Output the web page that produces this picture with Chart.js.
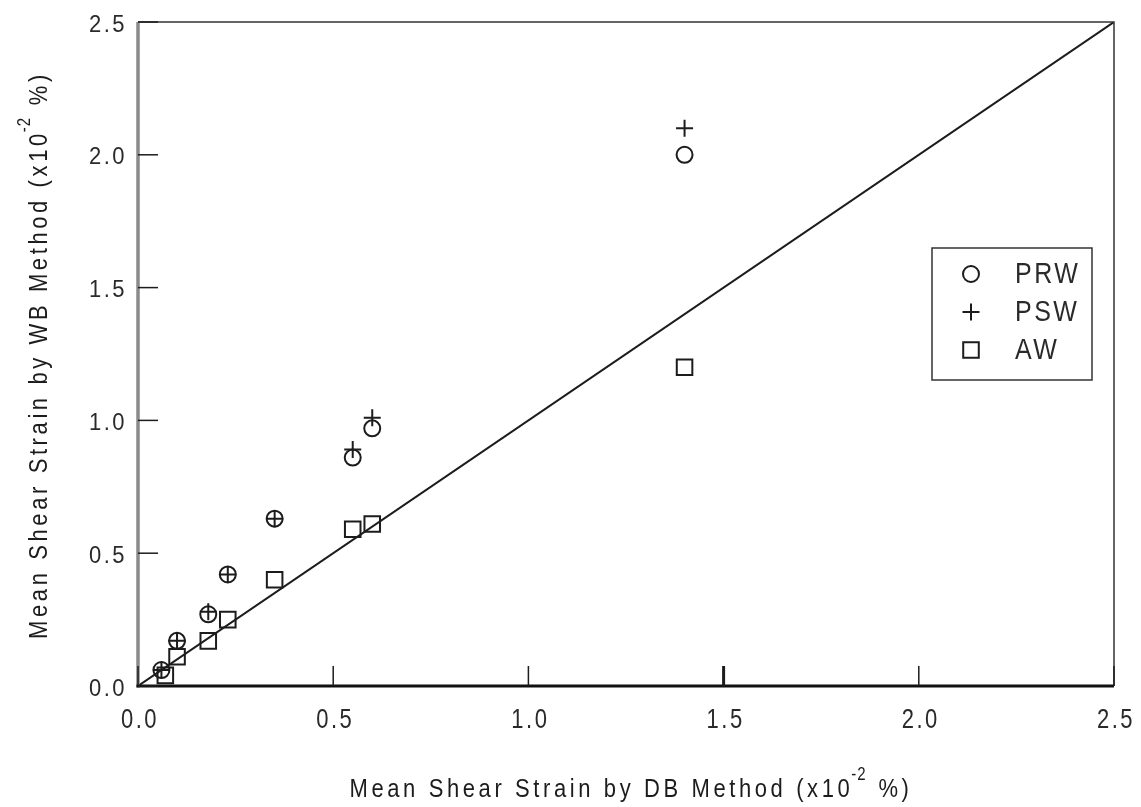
<!DOCTYPE html>
<html>
<head>
<meta charset="utf-8">
<script src="https://cdn.jsdelivr.net/npm/chart.js@4.4.1/dist/chart.umd.min.js"></script>
<style>
  html, body { margin: 0; padding: 0; background: #fff; }
  #wrap { width: 1141px; height: 807px; position: relative; }
</style>
</head>
<body>
<div id="wrap"><canvas id="c"></canvas></div>
<script>
/* data */
const dbPRW = [0.06, 0.10, 0.18, 0.23, 0.35, 0.55, 0.60, 1.40];
const wbPRW = [0.06, 0.17, 0.27, 0.42, 0.63, 0.86, 0.97, 2.00];
const dbPSW = [0.06, 0.10, 0.18, 0.23, 0.35, 0.55, 0.60, 1.40];
const wbPSW = [0.06, 0.17, 0.28, 0.42, 0.63, 0.89, 1.01, 2.10];
const dbAW  = [0.07, 0.10, 0.18, 0.23, 0.35, 0.55, 0.60, 1.40];
const wbAW  = [0.04, 0.11, 0.17, 0.25, 0.40, 0.59, 0.61, 1.20];
const lineX = [0, 2.5];
const lineY = [0, 2.5];
const tickVals = [0, 0.5, 1.0, 1.5, 2.0, 2.5];
const seriesNames = ['PRW', 'PSW', 'AW'];

const FONT = '"Liberation Sans", Arial, sans-serif';
const INK = '#1c1c1c';
const pts = (xs, ys) => xs.map((x, i) => ({ x: x, y: ys[i] }));

// text with a bit of vertical stretch + wide tracking, like the scanned figure
function stretchText(ctx, str, x, y, size, sy, spacing, align) {
  ctx.save();
  ctx.font = size + 'px ' + FONT;
  ctx.letterSpacing = spacing + 'px';
  ctx.textAlign = align || 'left';
  ctx.textBaseline = 'middle';
  ctx.translate(x, y);
  ctx.scale(1, sy);
  ctx.fillText(str, 0, 0);
  ctx.restore();
}
function textW(ctx, str, size, spacing) {
  ctx.save();
  ctx.font = size + 'px ' + FONT;
  ctx.letterSpacing = spacing + 'px';
  const w = ctx.measureText(str).width;
  ctx.restore();
  return w;
}

/* ── frame, inward ticks, labels, axis titles, legend ── */
const decor = {
  id: 'decor',
  afterDatasetsDraw(chart) {
    const { ctx, chartArea: a, scales } = chart;
    ctx.save();
    // frame
    ctx.strokeStyle = '#333';
    ctx.lineWidth = 1.5;
    ctx.beginPath();
    ctx.moveTo(a.left, a.top); ctx.lineTo(a.right, a.top); ctx.lineTo(a.right, a.bottom);
    ctx.stroke();
    ctx.strokeStyle = '#8a8a8a';
    ctx.lineWidth = 3.5;
    ctx.beginPath(); ctx.moveTo(a.left, a.top); ctx.lineTo(a.left, a.bottom + 1.5); ctx.stroke();
    ctx.strokeStyle = '#111';
    ctx.lineWidth = 3;
    ctx.beginPath(); ctx.moveTo(a.left - 1.5, a.bottom); ctx.lineTo(a.right, a.bottom); ctx.stroke();

    // ticks pointing inward + labels
    ctx.strokeStyle = INK;
    ctx.fillStyle = '#2a2a2a';
    tickVals.forEach(v => {
      const px = scales.x.getPixelForValue(v);
      ctx.lineWidth = v === 1.5 ? 3 : 1.5;
      ctx.beginPath(); ctx.moveTo(px, a.bottom); ctx.lineTo(px, a.bottom - 20); ctx.stroke();
      const py = scales.y.getPixelForValue(v);
      ctx.lineWidth = 1.5;
      ctx.beginPath(); ctx.moveTo(a.left, py); ctx.lineTo(a.left + 20, py); ctx.stroke();

      stretchText(ctx, v.toFixed(1), px + 2, 720, 22, 1.25, 2.5, 'center');
      stretchText(ctx, v.toFixed(1), 127, py + 3, 22, 1.1, 2.5, 'right');
    });

    // axis titles with superscript
    ctx.fillStyle = INK;
    const drawTitle = (pre, sup, post, cx, cy, rot) => {
      const sz = 22, sp = 3.6, sy = 1.2;
      const w1 = textW(ctx, pre, sz, sp);
      const w2 = textW(ctx, sup, 15, 1);
      const w3 = textW(ctx, post, sz, sp);
      ctx.save();
      ctx.translate(cx, cy);
      ctx.rotate(rot);
      const x0 = -(w1 + w2 + w3) / 2;
      stretchText(ctx, pre, x0, 0, sz, sy, sp, 'left');
      stretchText(ctx, sup, x0 + w1 - 2, -15, 15, 1.2, 1, 'left');
      stretchText(ctx, post, x0 + w1 + w2, 0, sz, sy, sp, 'left');
      ctx.restore();
    };
    drawTitle('Mean Shear Strain by DB Method (x10', '-2', ' %)', 631, 790, 0);
    drawTitle('Mean Shear Strain by WB Method (x10', '-2', ' %)', 40, 355, -Math.PI / 2);

    // legend box
    const lx = 932, ly = 248, lw = 160, lh = 132;
    ctx.strokeStyle = '#333';
    ctx.lineWidth = 1.5;
    ctx.strokeRect(lx, ly, lw, lh);
    const styles = ['circle', 'cross', 'rect'];
    const radii = [8, 8.5, 11];
    ctx.fillStyle = '#2a2a2a';
    seriesNames.forEach((name, i) => {
      const cy = 274 + i * 38;
      ctx.save();
      ctx.lineWidth = 2;
      ctx.strokeStyle = INK;
      ctx.fillStyle = 'rgba(0,0,0,0)';
      Chart.helpers.drawPoint(ctx, { pointStyle: styles[i], radius: radii[i], borderWidth: 2, rotation: 0 }, 971, cy);
      ctx.restore();
      stretchText(ctx, name, 1015, cy + 1, 25, 1.15, 2.5, 'left');
    });
    ctx.restore();
  }
};

const ctx = document.getElementById('c');
new Chart(ctx, {
  type: 'scatter',
  data: {
    datasets: [
      {
        type: 'line', label: '1:1', data: pts(lineX, lineY),
        borderColor: INK, borderWidth: 2, pointRadius: 0, fill: false
      },
      {
        label: seriesNames[0], data: pts(dbPRW, wbPRW),
        pointStyle: 'circle', pointRadius: 8, borderColor: INK, borderWidth: 2,
        backgroundColor: 'rgba(0,0,0,0)'
      },
      {
        label: seriesNames[1], data: pts(dbPSW, wbPSW),
        pointStyle: 'cross', pointRadius: 8.5, borderColor: INK, borderWidth: 2
      },
      {
        label: seriesNames[2], data: pts(dbAW, wbAW),
        pointStyle: 'rect', pointRadius: 11, borderColor: INK, borderWidth: 2,
        backgroundColor: 'rgba(0,0,0,0)'
      }
    ]
  },
  options: {
    responsive: true,
    maintainAspectRatio: false,
    animation: false,
    layout: { padding: { top: 22, right: 27, left: 138, bottom: 121 } },
    plugins: { legend: { display: false }, tooltip: { enabled: false } },
    scales: {
      x: { type: 'linear', min: 0, max: 2.5, display: false },
      y: { type: 'linear', min: 0, max: 2.5, display: false }
    }
  },
  plugins: [decor]
});
</script>
</body>
</html>
